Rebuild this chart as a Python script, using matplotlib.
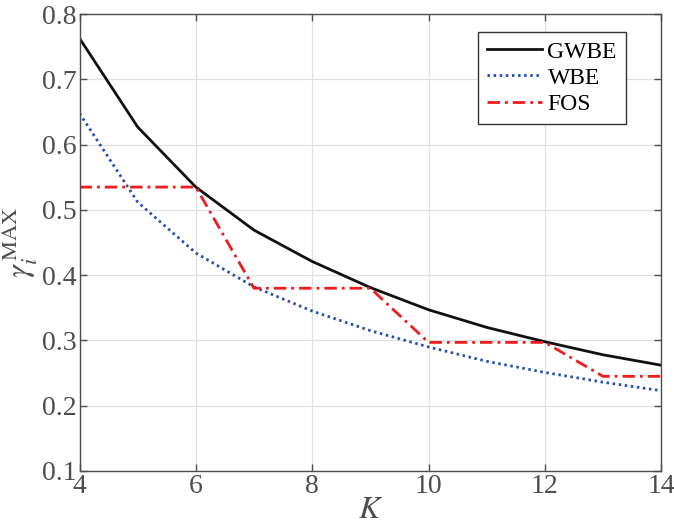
import matplotlib.pyplot as plt
import numpy as np

plt.rcParams['font.family'] = ['Liberation Serif', 'DejaVu Serif']
plt.rcParams['mathtext.fontset'] = 'stix'

# data
K = [4, 5, 6, 7, 8, 9, 10, 11, 12, 13, 14]
gwbe = [0.763, 0.627, 0.535, 0.469, 0.421, 0.381, 0.347, 0.320, 0.298, 0.278, 0.262]
wbe = [0.648, 0.512, 0.434, 0.382, 0.345, 0.315, 0.290, 0.268, 0.251, 0.236, 0.223]
fos = [0.535, 0.535, 0.535, 0.380, 0.380, 0.380, 0.297, 0.297, 0.297, 0.245, 0.245]

fig = plt.figure(figsize=(6.74, 5.25), dpi=100)
ax = fig.add_axes([0.118, 0.103, 0.863, 0.870])

ax.plot(K, gwbe, color='#111111', linewidth=2.0, linestyle='-', label='GWBE')
ax.plot(K, wbe, color='#1f4fb5', linewidth=2.0, linestyle=(0, (0.9, 1.3)), label='WBE')
ax.plot(K, fos, color='#ee1c1c', linewidth=2.0, linestyle=(0, (4.5, 1.8, 1, 1.8)), label='FOS')

ax.set_xlim(4, 14)
ax.set_ylim(0.1, 0.8)
ax.set_xticks(np.arange(4, 15, 2))
ax.set_yticks(np.arange(0.1, 0.81, 0.1))
ax.set_yticklabels(['0.1', '0.2', '0.3', '0.4', '0.5', '0.6', '0.7', '0.8'])
ax.grid(True, color='#e0e0e0', linewidth=0.9)
ax.set_axisbelow(True)

for s in ax.spines.values():
    s.set_color('#4d4d4d')
    s.set_linewidth(1.0)
ax.tick_params(direction='in', top=True, right=True, length=5, width=1.0,
               color='#4d4d4d', labelsize=20, labelcolor='#4d4d4d', pad=2)

ax.set_xlabel('$K$', fontsize=23, color='#4d4d4d', labelpad=-2)
ax.set_ylabel(r'$\gamma_i^{\,\mathrm{MAX}}$', fontsize=23, color='#4d4d4d', labelpad=2)

leg = ax.legend(loc='upper right', bbox_to_anchor=(0.94, 0.962), fontsize=17,
                fancybox=False, framealpha=1, edgecolor='#333333',
                handlelength=2.3, handletextpad=0.25, borderpad=0.4,
                labelspacing=0.2, borderaxespad=0)
leg.get_frame().set_linewidth(1.0)

plt.savefig('out.png', dpi=100)
